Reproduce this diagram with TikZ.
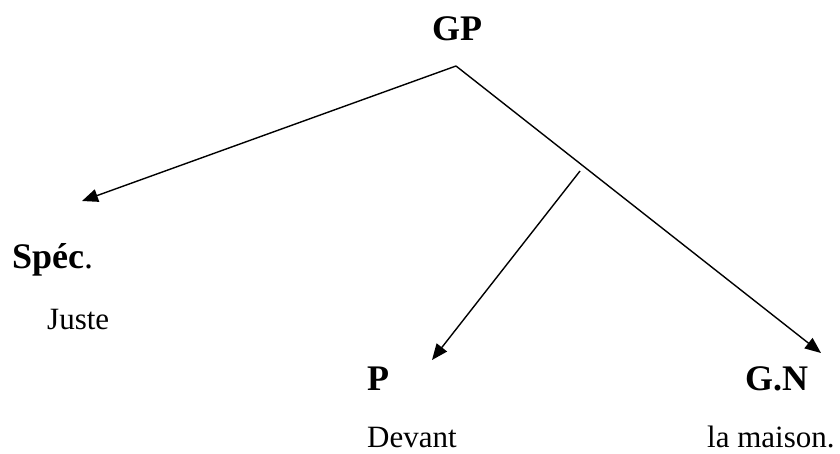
\documentclass[tikz,border=0pt]{standalone}
\usepackage{fontspec}
\setmainfont{Liberation Serif}
\usetikzlibrary{arrows.meta}
\begin{document}
\begin{tikzpicture}[x=1pt,y=-1pt,
  lbl/.style={font=\fontsize{36}{40}\selectfont\bfseries, anchor=base west, inner sep=0pt},
  word/.style={font=\fontsize{31}{36}\selectfont, anchor=base west, inner sep=0pt},
  edge/.style={line width=1.4pt, -{Triangle[length=16pt,width=13pt]}}]
\useasboundingbox (0,0) rectangle (840,453);
\node[lbl] (gp) at (432,40) {GP};
\node[lbl] (spec) at (12,268) {Spéc{\mdseries.}};
\node[word] (juste) at (47,329) {Juste};
\node[lbl] (p) at (367,390) {P};
\node[word, text depth=0pt] (devant) at (367,447) {Devant};
\node[lbl] (gn) at (745,390) {G.N};
\node[word, text depth=0pt] (maison) at (707,447) {la maison.};
\coordinate (apex) at (456,66);
\coordinate (tipspec) at (82,201);
\coordinate (tipgn) at (821,353);
\coordinate (mid) at (580,171);
\coordinate (tipp) at (432,360);
\draw[edge] (apex) -- (tipspec);
\draw[edge] (apex) -- (tipgn);
\draw[edge] (mid) -- (tipp);
\end{tikzpicture}
\end{document}
